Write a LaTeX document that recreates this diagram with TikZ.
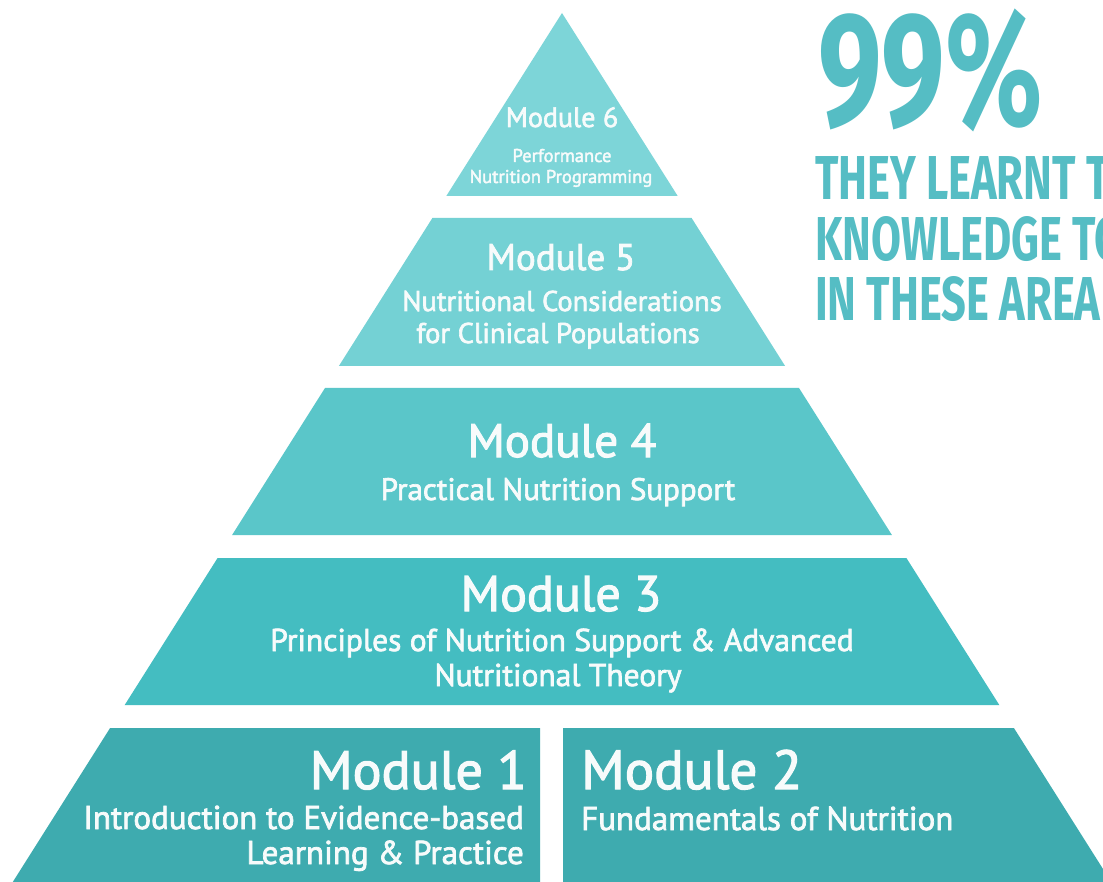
\documentclass[tikz,border=0pt]{standalone}
\usepackage{fontspec}
\setmainfont{PT Sans}[FakeBold=2.2]
\newfontfamily\condfont{Fira Sans}[FakeStretch=0.7]
\definecolor{cSix}{HTML}{7DD5D8}
\definecolor{cFive}{HTML}{74D1D4}
\definecolor{cFour}{HTML}{5AC6C9}
\definecolor{cThree}{HTML}{44BDC1}
\definecolor{cOne}{HTML}{3EABAF}
\definecolor{cStat}{HTML}{55BDC4}
\definecolor{cTxt}{HTML}{F7FBFB}
\tikzset{
  lbl/.style={inner sep=0pt, text=cTxt},
  stat/.style={inner sep=0pt, text=cStat, anchor=base west, text depth=0pt},
}
\newcommand{\fs}[1]{\fontsize{#1}{#1}\selectfont}
\begin{document}
\begin{tikzpicture}[x=1pt,y=-1pt]
\useasboundingbox (0,0) rectangle (1103,882);
\clip (0,0) rectangle (1103,882);
\fill[white] (0,0) rectangle (1103,882);
% layers
\fill[cSix] (562,13) -- (677.7,196) -- (446.3,196) -- cycle;
\fill[cFive] (432.4,218) -- (691.6,218) -- (785.1,366) -- (338.9,366) -- cycle;
\fill[cFour] (325,388) -- (799,388) -- (891.9,535) -- (232.1,535) -- cycle;
\fill[cThree] (217.6,558) -- (906.4,558) -- (999.3,705) -- (124.7,705) -- cycle;
\fill[cOne] (110.1,728) -- (540,728) -- (540,900) -- (1.4,900) -- cycle;
\fill[cOne] (563,728) -- (1013.9,728) -- (1122.6,900) -- (563,900) -- cycle;
% module 6
\node[lbl, anchor=base] (m6t) at (562,127) {\fs{28}Module 6};
\node[lbl, anchor=base] (m6a) at (562,162) {\fs{18.5}Performance};
\node[lbl, anchor=base] (m6b) at (561,183) {\fs{18.5}Nutrition Programming};
% module 5
\node[lbl, anchor=base] (m5t) at (561,270) {\fs{37}Module 5};
\node[lbl, anchor=base] (m5a) at (562,311) {\fs{28.5}Nutritional Considerations};
\node[lbl, anchor=base] (m5b) at (558,343) {\fs{28.5}for Clinical Populations};
% module 4
\node[lbl, anchor=base] (m4t) at (562,457) {\fs{47}Module 4};
\node[lbl, anchor=base] (m4a) at (558,500) {\fs{31}Practical Nutrition Support};
% module 3
\node[lbl, anchor=base] (m3t) at (561,611) {\fs{50}Module 3};
\node[lbl, anchor=base] (m3a) at (562,651) {\fs{31.5}Principles of Nutrition Support \& Advanced};
\node[lbl, anchor=base] (m3b) at (558,686) {\fs{31.5}Nutritional Theory};
% module 1
\node[lbl, anchor=base east] (m1t) at (527,789) {\fs{54}Module 1};
\node[lbl, anchor=base east] (m1a) at (524,829) {\fs{33}Introduction to Evidence-based};
\node[lbl, anchor=base east] (m1b) at (524,864) {\fs{33}Learning \& Practice};
% module 2
\node[lbl, anchor=base west] (m2t) at (581,789) {\fs{55}Module 2};
\node[lbl, anchor=base west] (m2a) at (581,830) {\fs{33}Fundamentals of Nutrition};
% statistic
\node[stat, text height=112pt] (pct) at (818,126) {\condfont\bfseries\fs{162}99\%};
\node[stat, text height=43pt] (s1) at (815,200) {\condfont\bfseries\fs{62}THEY LEARNT T};
\node[stat, text height=43pt] (s2) at (815,261) {\condfont\bfseries\fs{62}KNOWLEDGE TO};
\node[stat, text height=43pt] (s3) at (815,321) {\condfont\bfseries\fs{62}IN THESE AREA};
\end{tikzpicture}
\end{document}
